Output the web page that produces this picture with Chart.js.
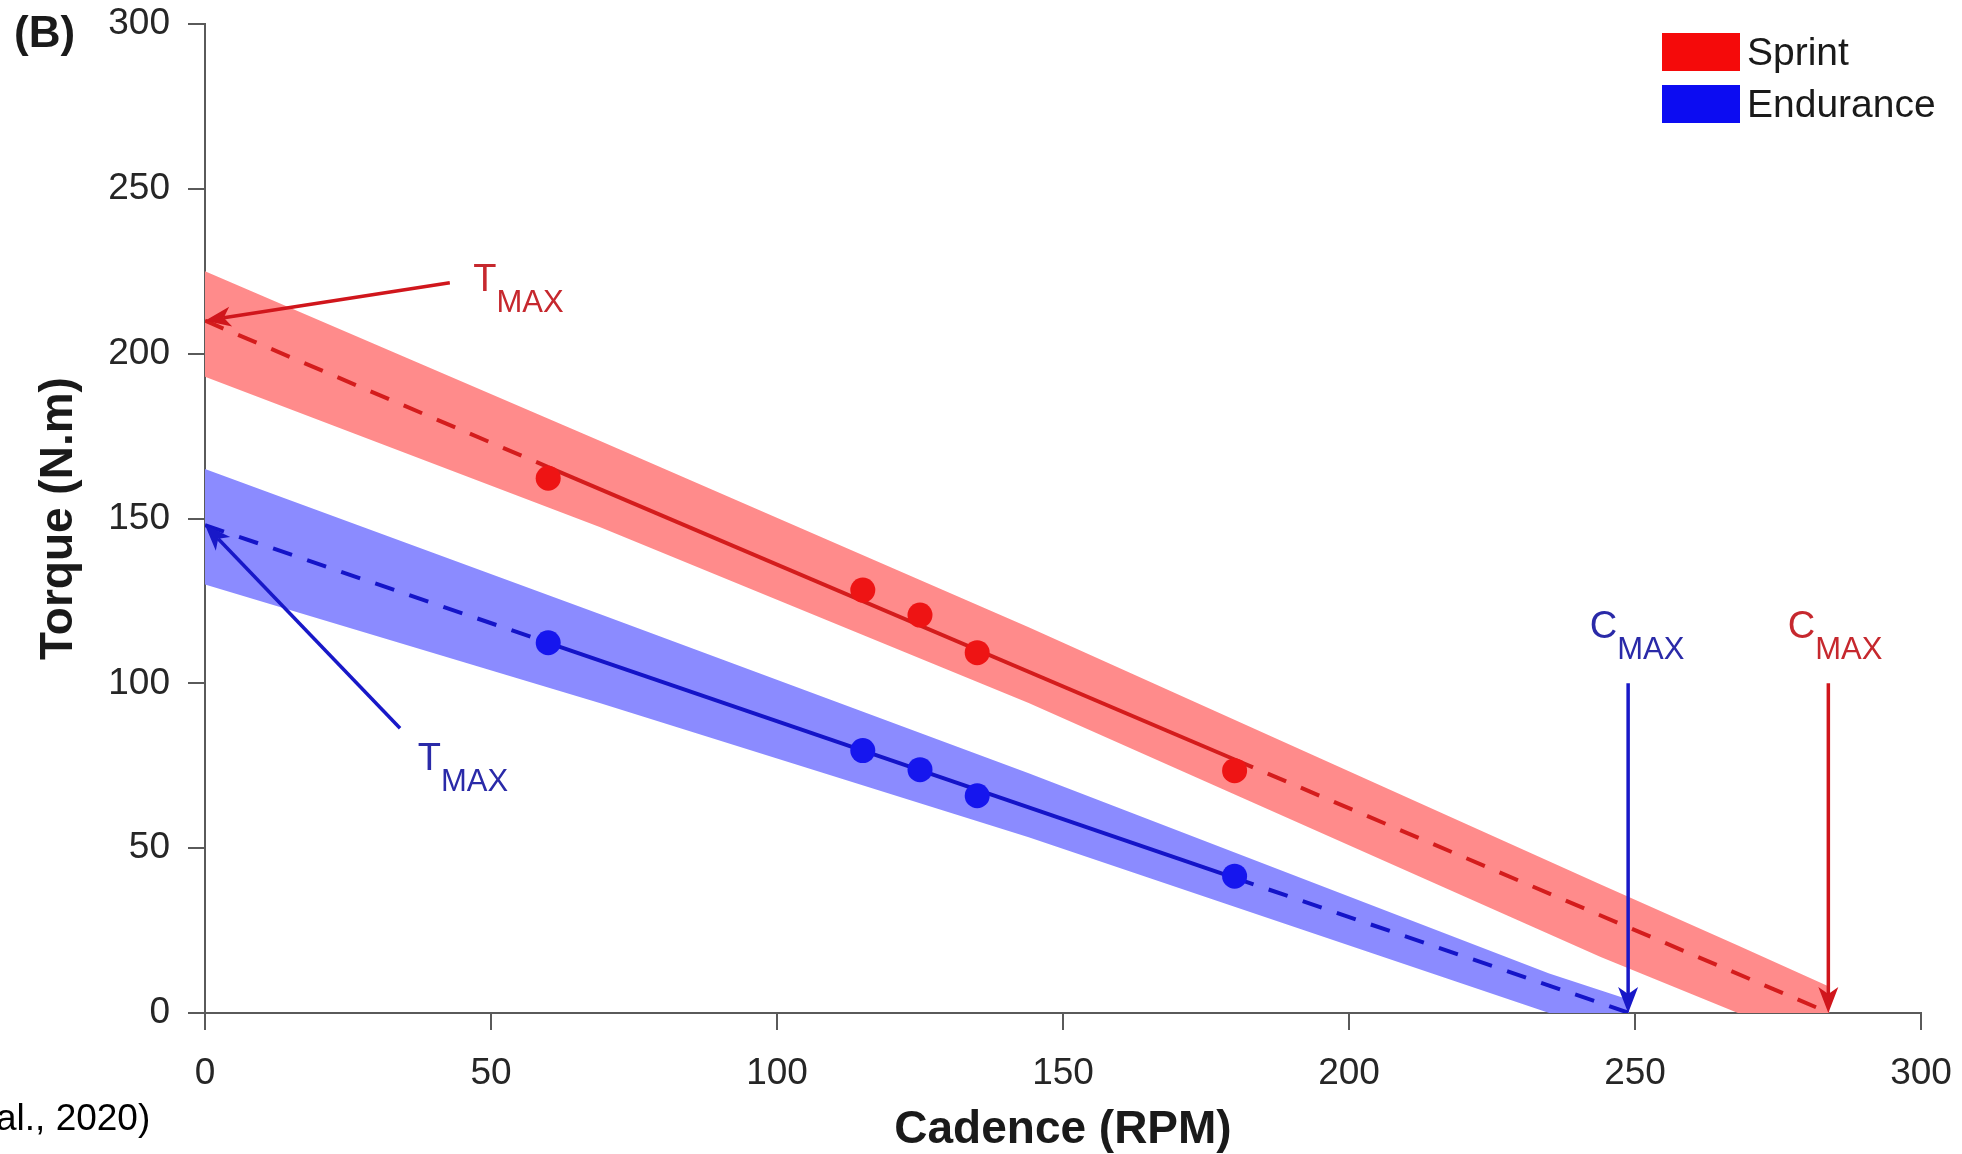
<!DOCTYPE html>
<html><head><meta charset="utf-8">
<script src="https://cdn.jsdelivr.net/npm/chart.js@4.4.1/dist/chart.umd.min.js"></script>
<style>html,body{margin:0;padding:0;background:#fff;overflow:hidden}#wrap{width:1962px;height:1154px;position:relative}</style>
</head><body><div id="wrap"><canvas id="c" width="1962" height="1154"></canvas></div>
<script>
// ---------- data ----------
const seriesNames = ['Sprint', 'Endurance'];
const cadence = [60, 115, 125, 135, 180];
const sprintTorque = [162.2, 128.3, 120.7, 109.3, 73.5];
const enduranceTorque = [112.3, 79.6, 73.8, 65.9, 41.5];
const sprintFitX = [0, 60, 180, 284];
const sprintFitY = [210, 165.6, 76.9, 0];
const enduranceFitX = [0, 60, 180, 249];
const enduranceFitY = [148, 112.3, 41, 0];
const sprintBandX = [0, 69, 144, 244, 268, 284];
const sprintBandUpper = [225, 173.6, 117, 39, 20.5, 8];
const sprintBandLower = [193, 147.4, 94, 17, 0, 0];
const enduranceBandX = [0, 69, 144, 235, 249];
const enduranceBandUpper = [165, 121, 72.7, 12, 4];
const enduranceBandLower = [130, 94, 53.3, 0, 0];
const xTicks = [0, 50, 100, 150, 200, 250, 300];
const yTicks = [0, 50, 100, 150, 200, 250, 300];
const xTitle = 'Cadence (RPM)';
const yTitle = 'Torque (N.m)';
const panelLabel = '(B)';
const captionText = 'al., 2020)';
// annotation arrows (data units): T_MAX sprint, T_MAX endurance, C_MAX endurance, C_MAX sprint
const arrowSeries = [0, 1, 1, 0];
const arrowFromX = [42.8, 34.1, 248.8, 283.8];
const arrowFromY = [221.5, 86.4, 100, 100];
const arrowToX = [0, 0, 248.8, 283.8];
const arrowToY = [210, 148, 0, 0];
const labelMain = ['T', 'T', 'C', 'C'];
const labelSub = ['MAX', 'MAX', 'MAX', 'MAX'];
const labelX = [46.9, 37.2, 242.1, 276.7];
const labelY = [219, 73.6, 113.6, 113.6];

// ---------- style ----------
const FONT = "'Liberation Sans', Arial, Helvetica, sans-serif";
const style = {
  lineColor: ['#D41C1C', '#1414C8'],
  pointColor: ['#EE1414', '#1616EE'],
  bandColor: ['#FF8B8B', '#8B8BFF'],
  legendColor: ['#F50A0A', '#0C0CF2'],
  arrowColor: ['#D0161C', '#1818C8'],
  labelColor: ['#C6282E', '#2A2AA8'],
  axisColor: '#5a5a5a',
  tickColor: '#262626'
};

const pts = (xs, ys) => xs.map((x, i) => ({x: x, y: ys[i]}));
const dashSeg = {borderDash: ctx => (ctx.p0DataIndex === 1 ? undefined : [20, 16])};
const bandCommon = {showLine: true, pointRadius: 0, borderColor: 'rgba(0,0,0,0)', borderWidth: 1, tension: 0};

const datasets = [
  {label: seriesNames[0], data: pts(cadence, sprintTorque), showLine: false, pointRadius: 12.5, pointBackgroundColor: style.pointColor[0], pointBorderWidth: 0, borderColor: style.pointColor[0]},
  {label: seriesNames[1], data: pts(cadence, enduranceTorque), showLine: false, pointRadius: 12.5, pointBackgroundColor: style.pointColor[1], pointBorderWidth: 0, borderColor: style.pointColor[1]},
  {label: 'fitS', data: pts(sprintFitX, sprintFitY), showLine: true, pointRadius: 0, borderColor: style.lineColor[0], borderWidth: 4, segment: dashSeg, fill: false},
  {label: 'fitE', data: pts(enduranceFitX, enduranceFitY), showLine: true, pointRadius: 0, borderColor: style.lineColor[1], borderWidth: 4, segment: dashSeg, fill: false},
  Object.assign({label: 'bandSU', data: pts(sprintBandX, sprintBandUpper), fill: '+1', backgroundColor: style.bandColor[0]}, bandCommon),
  Object.assign({label: 'bandSL', data: pts(sprintBandX, sprintBandLower), fill: false}, bandCommon),
  Object.assign({label: 'bandEU', data: pts(enduranceBandX, enduranceBandUpper), fill: '+1', backgroundColor: style.bandColor[1]}, bandCommon),
  Object.assign({label: 'bandEL', data: pts(enduranceBandX, enduranceBandLower), fill: false}, bandCommon)
];

function drawArrow(ctx, x1, y1, x2, y2, color) {
  const a = Math.atan2(y2 - y1, x2 - x1), c = Math.cos(a), s = Math.sin(a);
  const L = 26, W = 10, N = 7;
  const nx = x2 - (L - N) * c, ny = y2 - (L - N) * s;
  const bx = x2 - L * c, by = y2 - L * s;
  ctx.save();
  ctx.strokeStyle = color; ctx.fillStyle = color; ctx.lineWidth = 3.5; ctx.lineCap = 'butt';
  ctx.beginPath(); ctx.moveTo(x1, y1); ctx.lineTo(nx, ny); ctx.stroke();
  ctx.beginPath(); ctx.moveTo(x2, y2);
  ctx.lineTo(bx + W * s, by - W * c);
  ctx.lineTo(nx, ny);
  ctx.lineTo(bx - W * s, by + W * c);
  ctx.closePath(); ctx.fill();
  ctx.restore();
}

const annot = {
  id: 'annot',
  afterDatasetsDraw(chart) {
    const {ctx, scales: {x, y}} = chart;
    for (let i = 0; i < arrowFromX.length; i++) {
      drawArrow(ctx, x.getPixelForValue(arrowFromX[i]), y.getPixelForValue(arrowFromY[i]),
        x.getPixelForValue(arrowToX[i]), y.getPixelForValue(arrowToY[i]), style.arrowColor[arrowSeries[i]]);
    }
    ctx.save();
    ctx.textBaseline = 'alphabetic'; ctx.textAlign = 'left';
    for (let i = 0; i < labelMain.length; i++) {
      const px = x.getPixelForValue(labelX[i]), py = y.getPixelForValue(labelY[i]);
      ctx.fillStyle = style.labelColor[arrowSeries[i]];
      ctx.font = '38px ' + FONT;
      ctx.fillText(labelMain[i], px, py);
      const w = ctx.measureText(labelMain[i]).width;
      ctx.font = '31px ' + FONT;
      ctx.fillText(labelSub[i], px + w, py + 21);
    }
    ctx.restore();
  },
  afterDraw(chart) {
    const {ctx, chartArea} = chart;
    ctx.save();
    // legend
    const lx = chartArea.right - 259;
    const rows = [chartArea.top + 9, chartArea.top + 61];
    ctx.font = '39px ' + FONT; ctx.textBaseline = 'middle'; ctx.textAlign = 'left';
    seriesNames.forEach((n, i) => {
      ctx.fillStyle = style.legendColor[i];
      ctx.fillRect(lx, rows[i], 78, 38);
      ctx.fillStyle = '#1a1a1a';
      ctx.fillText(n, lx + 85, rows[i] + 21);
    });
    // panel label
    ctx.textBaseline = 'alphabetic';
    ctx.font = 'bold 44px ' + FONT; ctx.fillStyle = '#1a1a1a';
    ctx.fillText(panelLabel, 14, 47);
    // caption fragment
    ctx.font = '37px ' + FONT; ctx.fillStyle = '#000';
    ctx.fillText(captionText, -4, 1130);
    ctx.restore();
  }
};

const axisCommon = (ticksArr, titleText, titlePad, tickPad) => ({
  type: 'linear', min: 0, max: 300,
  afterBuildTicks: s => { s.ticks = ticksArr.map(v => ({value: v})); },
  ticks: {font: {family: FONT, size: 37}, color: style.tickColor, padding: tickPad},
  grid: {drawOnChartArea: false, drawTicks: true, tickLength: 17, color: style.axisColor, lineWidth: 2},
  border: {display: true, color: style.axisColor, width: 2},
  title: {display: true, text: titleText, font: {family: FONT, size: 46, weight: 'bold'}, color: '#1a1a1a', padding: titlePad}
});

const zeroPad = s => { s.paddingLeft = 0; s.paddingRight = 0; s.paddingTop = 0; s.paddingBottom = 0; };
const xAxis = axisCommon(xTicks, xTitle, {top: 0, bottom: -4}, 22);
xAxis.afterFit = s => { s.height = 141; zeroPad(s); };
const yAxis = axisCommon(yTicks, yTitle, {top: 32, bottom: 0}, 18);
yAxis.afterFit = s => { s.width = 205; zeroPad(s); };

new Chart(document.getElementById('c'), {
  type: 'scatter',
  data: {datasets: datasets},
  options: {
    responsive: false, animation: false,
    layout: {padding: {left: 0, right: 41, top: 24, bottom: 0}},
    plugins: {legend: {display: false}, tooltip: {enabled: false}, filler: {propagate: false}},
    scales: {x: xAxis, y: yAxis}
  },
  plugins: [annot]
});
</script></body></html>
